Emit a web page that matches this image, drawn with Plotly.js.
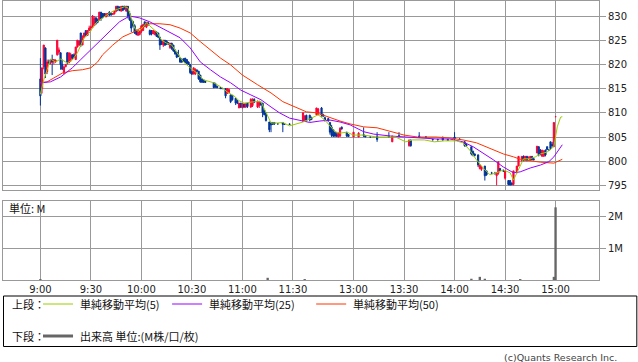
<!DOCTYPE html>
<html><head><meta charset="utf-8">
<script src="https://cdn.plot.ly/plotly-3.0.1.min.js"></script>
<style>html,body{margin:0;padding:0;background:#fff;}#chart{width:638px;height:362px;}</style>
</head><body><div id="chart"></div>
<script>
// ---------- DATA ----------
const tickLabels = ["9:00","9:30","10:00","10:30","11:00","11:30","13:00","13:30","14:00","14:30","15:00"];
const priceTicks = [795,800,805,810,815,820,825,830];

const candleTimes = ["9:00","9:01","9:02","9:03","9:04","9:05","9:06","9:07","9:08","9:09","9:10","9:11","9:12","9:13","9:14","9:15","9:16","9:17","9:18","9:19","9:20","9:21","9:22","9:23","9:24","9:25","9:26","9:27","9:28","9:29","9:30","9:31","9:32","9:33","9:34","9:35","9:36","9:37","9:38","9:39","9:40","9:41","9:42","9:43","9:44","9:45","9:46","9:47","9:48","9:49","9:50","9:51","9:52","9:53","9:54","9:55","9:56","9:57","9:58","9:59",
"10:00","10:01","10:02","10:03","10:04","10:05","10:06","10:07","10:08","10:09","10:10","10:11","10:12","10:13","10:14","10:15","10:16","10:17","10:18","10:19","10:20","10:21","10:22","10:23","10:24","10:25","10:26","10:27","10:28","10:29","10:30","10:31","10:32","10:33","10:34","10:35","10:36","10:37","10:38","10:43","10:44","10:45","10:47","10:48","10:50","10:51","10:52","10:53","10:54","10:56","10:57","10:58","10:59",
"11:00","11:01","11:02","11:03","11:05","11:06","11:07","11:09","11:10","11:11","11:12","11:13","11:14","11:16","11:17","11:18","11:19","11:21","11:24","11:25","11:28",
"12:30","12:31","12:32","12:34","12:35","12:38","12:39","12:41","12:42","12:43","12:45","12:46","12:47","12:48","12:49","12:50","12:51","12:52","12:53","12:56","12:57",
"13:00","13:03","13:06","13:07","13:10","13:14","13:21","13:23","13:27","13:33","13:34","13:39","13:43","13:47","13:50","13:53","13:56",
"14:00","14:03","14:06","14:07","14:10","14:11","14:12","14:14","14:15","14:16","14:18","14:19","14:22","14:24","14:25","14:26","14:27","14:29","14:30","14:32","14:33","14:34","14:35","14:37","14:38","14:40","14:41","14:42","14:43","14:44","14:45","14:46","14:47","14:49","14:50","14:51","14:52","14:53","14:54","14:55","14:56","14:57","14:58","14:59","15:00"];
const opens  = [817,815,819.5,823.4,818.5,820.5,820.3,821,820.5,820.5,822,822.5,822.4,820,818.2,819.5,822.4,820.3,821,822,822,821,823.6,824,826.5,824,825.5,827,826,827,827.5,827.7,828,829.6,829.2,829.2,830.8,830.5,830.5,829.8,830.3,830.8,830.5,830.3,830.5,831,832,831.5,831,832,832,831,832,830.5,829.2,828.8,828,827,826,826.2,
826.8,827,828.8,827.7,828.6,827,827,826.3,826.2,826.7,826.5,825.6,825,824,825,824.8,824.5,823.5,824.4,824,823,822.5,822,821.3,821,821,821.3,821,820.5,820,818.5,818,818,818.8,818.6,817.8,817,816.8,816.5,816.2,816,815.5,815.2,815,815,814,814.2,813.7,813.5,813,812.5,811,812,
811,811.8,811.2,812,811.2,811.5,812.8,811.2,811.5,812,812,810.5,810,808.1,808,808,808,807.7,808,807.7,807.7,
808.2,808.5,809.5,809.5,809,809.6,809.6,811,809.6,809,808.8,808,807,806.5,806,805.5,805,805.2,807,806,805.5,
805,805,805.5,805.3,805,805.2,805.2,804,805.3,803.2,804.3,805.2,805,804.5,804.5,805,804.5,
805,804.6,804,803.5,803,802,801.5,801.3,798.5,798.3,799,798,797.6,797.5,797,797.5,798.5,798,796.5,796,796,795.5,795.2,797.6,799,800,801,800.2,801,800.5,800.2,801,800.5,801.7,803,802.3,801,801,802.3,803,802.3,804,803.5,803,809.2];
const highs  = [821.3,819.3,824,823.5,821,821,821,822,821,821,825,823.5,822.5,821,819.5,820,822.5,822.4,822.4,822,822.3,823.6,825,825,826.5,826,826.5,827,827,828,828,830.2,830,829.8,829.5,830.8,830.8,830.6,830.6,830.5,830.6,831,830.8,830.6,831,832.1,832.1,832,832,832.1,832.1,832.1,832,831,829.5,829,828.3,827.2,827,827,
828,828.4,828.8,828.8,828.8,827.2,827,827,827,826.8,826.5,825.7,825,825,825,825,824.6,824.4,824.4,824,823,822.6,823,821.5,821.3,821.3,821.3,821,820.6,820,818.6,819.3,819.2,819,818.6,817.8,817,816.8,816.5,816.3,816.2,815.5,815.3,815.2,815,815,815,813.8,813.7,813,812.6,812,812,
812,812,812,812,813,813,813,812.5,812.5,812.3,812,810.6,810,808.1,808,808.1,808,807.8,808.1,807.8,807.8,
810,809.5,809.6,809.6,809.2,811,811,811.2,809.8,809.2,809,808,807.5,806.6,806,806,806,807,807.2,806,805.6,
806,806,807,805.4,805.1,806,806,805.2,806,804.4,804.5,806,805.1,804.6,804.6,805,804.6,
806,804.7,804.2,803.6,803,802.2,801.6,801.4,799.3,799,799,798,797.8,797.8,797.6,800,798.6,798.3,798,796,796.1,795.6,798,799,801,801,801.2,801,801.1,801,801,801,800.6,803.1,803,802.5,802.3,802.3,802.4,803,802.4,804,804,808,809.3];
const lows   = [811.5,814,819,817.2,818,820,820,817.8,820,820.3,821.8,822,818.9,818.9,818,819.5,820,820.3,820.5,821,821.3,820.9,823.5,823.8,823.6,824,825.5,825.7,826,827,827,827.5,828,828.2,828.5,829,829,829.5,829.8,829.8,830,830,830,830.3,830.3,830.8,831,831,831,831,831.3,831,829.5,829,826.7,827.7,826.3,826,826,826,
826.5,827,827.7,827.5,828,826,826,826.3,826,825.7,825.5,823,824,823.6,823.8,824,824,823.2,823,822.6,822,821.3,821.5,820.3,820.3,820.5,820.3,820,819.9,818,817.8,818,817.8,818.5,816.8,816.2,816.2,816.2,816.2,815.1,815.2,815.1,815,815,813,814,814,812,812.5,811.6,811.8,811,811,
811,811,811,811,811,811.2,812,811,811,811.5,809.1,809.5,808.2,806,806,807.5,807.5,807.7,806,807.5,807.6,
808.2,808.2,808.2,808.2,808.5,809.5,809.5,809.2,809.2,808.2,808.2,805.5,805,805,805,805,805,805,806.5,805,805,
805,805,805,805,805,804,805,804,805,803,803,805,805,804.4,804.4,804.2,804.2,
804.4,804.4,803,803,801.2,801,801,798.8,798.3,798,796,797,797.4,797.3,795,797.2,798,797.8,796.2,795,795,795,795,797.6,799,800,800,800.2,800,800.5,800.2,800.2,800.2,801.7,801,801.2,801,801,801,802.3,802.3,802.3,803,803,809.2];
const closes = [813.5,819.3,824,818,820.5,820.3,820.9,820.5,821,820.9,825,823,820,819,819.5,820,820.3,822.4,822,821.3,821.5,823.6,825,824.8,824,825.5,826.5,826,827,827.5,827.7,830,829.5,828.5,828.7,830.8,829.5,829.7,830,830.5,830.5,830.2,830.3,830.5,831,832,831.3,831.2,832,831.2,831.5,832,830,829.2,827.5,828,826.5,826.2,827,826.8,
828,828.2,828,828.6,828.2,826.2,826.3,827,826.8,825.8,825.6,824,824.2,825,824,824.2,824.2,824.4,823.3,822.8,822.2,821.5,821.8,820.5,820.5,820.7,820.4,820.2,820,818.3,818,819.3,819,818.6,817,816.4,816.3,816.3,816.3,815.2,815.3,815.2,815,815,813.5,815,814.8,812.3,812.7,812,812,812,811.2,
811.8,811.2,811.8,811.3,812.8,812.7,812.2,812.4,812.2,811.6,810,809.6,808.4,806.5,807.5,807.6,807.7,807.7,807.6,807.6,807.6,
810,809.3,808.4,808.5,808.6,811,810.8,809.5,809.3,808.4,808.3,806,805.3,805.2,805.2,805.2,805.8,806.8,806.7,805.2,805.1,
806,805.8,805.3,805,805,804.5,805,805.2,805.1,804.4,803.2,805,805,804.4,804.4,804.4,804.3,
804.6,804.5,803.2,803.1,801.5,801.3,801.2,799.2,799.2,798.8,797,797.2,797.5,797.4,797.6,799.8,798.1,798,798,795.2,795.1,795.2,798,799,801,801,800.2,801,800.2,800.6,801,800.3,800.3,803.1,801.3,801.5,802.3,802,801.3,802.4,802.3,802.6,803.2,808,809.2];

const ma5Times = ["9:00","9:02","9:04","9:06","9:09","9:12","9:16","9:19","9:22","9:26","9:29","9:33","9:37","9:41","9:45","9:50","9:52","9:54","9:56","9:58","10:00","10:03","10:06","10:09","10:12","10:15","10:18","10:21","10:25","10:29","10:33","10:37","10:43","10:47","10:51","10:55","10:58","11:01","11:07","11:11","11:14","11:17","11:21","11:24","11:28","12:30","12:35","12:39","12:43","12:47","12:49","12:52","12:56","13:00","13:06","13:14","13:20","13:25","13:31","13:35","13:42","13:48","13:54","14:01","14:05","14:09","14:13","14:17","14:21","14:25","14:29","14:33","14:35","14:37","14:41","14:45","14:48","14:51","14:55","14:59","15:01","15:03","15:04"];
const ma5Values = [813.8,816.8,818.9,821.1,820.5,821.1,820.3,820.9,822.4,825.5,826.5,828.6,829.6,830.6,831.3,831.9,831.7,829.6,827.5,826.8,827.3,828.6,827.7,826.7,825,824.4,824,822.4,820.5,819.3,818.2,816.8,816.2,815.4,814.3,813.5,812.5,812,812.3,812.3,810.2,807.9,807.9,808,807.3,808.1,808.9,809.6,808.5,806.9,806.1,805.8,806,805.4,805.4,805,805,805,804,804.4,804.4,804,804.2,804.2,803.8,802.3,800.3,798.6,797.2,797.6,798.2,797.6,796.1,797.6,800.5,800.5,800.9,801.5,801.9,803,807.1,809.1,809.2];

const ma25Times = ["9:00","9:06","9:12","9:16","9:19","9:24","9:30","9:35","9:41","9:47","9:53","9:59","10:05","10:11","10:17","10:23","10:29","10:35","10:41","10:47","10:53","10:59","11:05","11:11","11:17","11:22","11:28","12:30","12:34","12:40","12:46","12:52","12:58","13:06","13:12","13:22","13:30","13:38","13:49","13:57","14:05","14:11","14:17","14:23","14:29","14:35","14:39","14:45","14:51","14:56","14:59","15:02","15:04"];
const ma25Values = [816.2,816.4,817.4,818.4,819.3,821,823,824.7,826.7,828.8,830,829.6,828.8,827.7,826.5,825.5,823.4,820.5,818.9,817.4,816.2,814.7,813.7,812.7,811.2,810,808.9,808.2,808,808.3,808.5,808.1,807.5,806.1,805.6,805.2,805,804.8,804.6,804.6,804,803,801.7,800.3,798.8,797.6,797.8,798.6,799.2,799.9,800.9,802.5,803.4];

const ma50Times = ["9:00","9:04","9:08","9:13","9:19","9:25","9:30","9:34","9:37","9:43","9:49","9:56","10:00","10:05","10:11","10:17","10:23","10:29","10:35","10:41","10:47","10:53","11:00","11:09","11:17","11:24","12:30","12:32","12:38","12:46","12:52","12:58","13:06","13:14","13:22","13:30","13:38","13:49","13:57","14:05","14:13","14:21","14:29","14:35","14:39","14:45","14:51","14:59","15:01","15:04"];
const ma50Values = [816.2,816.4,817.2,818.2,818.7,818.9,819.3,820.5,822,824,825.7,826.8,827.6,828.4,828.4,828.2,827.5,826.5,824.7,823,821.3,819.9,817.8,815.8,814.1,812.3,810.6,810.2,810,809,808.3,807.7,807.1,806.9,806.1,805.4,805,805,804.8,804.4,803.8,802.7,801.5,800.9,800.4,800.1,799.8,799.6,799.9,800.4];

const volTimes = ["9:00","11:15","12:31","14:10","14:15","14:18","14:39","14:59","15:00"];
const volValues = [0.03,0.07,0.03,0.04,0.1,0.04,0.03,0.1,2.3]; // millions

// ---------- HELPERS ----------
function toIdx(s){const p=s.split(':').map(Number);const m=p[0]*60+p[1];return m<=690?m-540:156+(m-750);}
const RED='#ff0033', BLUE='#003399', GRID='#999999';
const W=638,H=362,ML=3,MR=39.3,MT=1,MB=82;
const PW=W-ML-MR, PH=H-MT-MB;
const px=x=>(x-ML)/PW, py=y=>(H-MB-y)/PH;
const xr=[-22.2,331.8];
const tickVals=tickLabels.map(toIdx);
const tf={family:'DejaVu Sans',size:10,color:'#222'};
const jf={family:'Noto Sans CJK JP',size:11,color:'#111'};

const traces=[
 {type:'candlestick',x:candleTimes.map(toIdx),open:opens,high:highs,low:lows,close:closes,
  increasing:{line:{color:RED,width:1},fillcolor:RED},decreasing:{line:{color:BLUE,width:1},fillcolor:BLUE},
  whiskerwidth:0,hoverinfo:'skip',xaxis:'x',yaxis:'y',showlegend:false},
 {type:'scatter',mode:'lines',x:ma50Times.map(toIdx),y:ma50Values,line:{color:'#ff3300',width:1},xaxis:'x',yaxis:'y',showlegend:false,hoverinfo:'skip'},
 {type:'scatter',mode:'lines',x:ma25Times.map(toIdx),y:ma25Values,line:{color:'#9900ff',width:1},xaxis:'x',yaxis:'y',showlegend:false,hoverinfo:'skip'},
 {type:'scatter',mode:'lines',x:ma5Times.map(toIdx),y:ma5Values,line:{color:'#99cc00',width:1},xaxis:'x',yaxis:'y',showlegend:false,hoverinfo:'skip'},
 {type:'bar',x:volTimes.map(toIdx),y:volValues,width:1.4,marker:{color:'#666666',line:{width:0}},xaxis:'x2',yaxis:'y2',showlegend:false,hoverinfo:'skip'}
];

const axBase={showgrid:true,gridcolor:GRID,gridwidth:1,showline:true,linecolor:GRID,linewidth:1,mirror:true,zeroline:false,fixedrange:true};
const shapes=[
 {type:'rect',xref:'paper',yref:'paper',x0:px(3.5),x1:px(636.5),y0:py(296),y1:py(346.5),line:{color:'#000',width:1},fillcolor:'rgba(0,0,0,0)'},
 {type:'line',xref:'paper',yref:'paper',x0:px(43),x1:px(73),y0:py(304),y1:py(304),line:{color:'#99cc00',width:1}},
 {type:'line',xref:'paper',yref:'paper',x0:px(172),x1:px(202),y0:py(304),y1:py(304),line:{color:'#9900ff',width:1}},
 {type:'line',xref:'paper',yref:'paper',x0:px(316),x1:px(346),y0:py(304),y1:py(304),line:{color:'#ff3300',width:1}},
 {type:'line',xref:'paper',yref:'paper',x0:px(43),x1:px(73),y0:py(336),y1:py(336),line:{color:'#666666',width:3}}
];
const ann=(x,y,t,f,anchor)=>({xref:'paper',yref:'paper',x:px(x),y:py(y),text:t,showarrow:false,xanchor:anchor||'left',yanchor:'middle',font:f||jf});
const annotations=[
 ann(10,304,'上段：'),ann(78,304,'単純移動平均(5)'),ann(207,304,'単純移動平均(25)'),ann(351,304,'単純移動平均(50)'),
 ann(10,336,'下段：'),ann(78,336,'出来高 単位:(M株/口/枚)'),
 ann(7,208,'単位: M',{family:'Noto Sans CJK JP',size:11,color:'#111'}),
 ann(619,357,'(c)Quants Research Inc.',{family:'DejaVu Sans',size:9.5,color:'#444'},'right')
];

const layout={width:W,height:H,margin:{l:ML,r:MR,t:MT,b:MB,pad:0},paper_bgcolor:'#fff',plot_bgcolor:'#fff',
 showlegend:false,boxgap:0,dragmode:false,
 xaxis:Object.assign({},axBase,{domain:[0,1],anchor:'y',range:xr,tickvals:tickVals,showticklabels:false,ticks:'',rangeslider:{visible:false}}),
 yaxis:Object.assign({},axBase,{domain:[py(190),1],anchor:'x',side:'right',range:[794.05,833.1],tickvals:priceTicks,ticks:'outside',ticklen:6,tickcolor:GRID,tickfont:tf}),
 xaxis2:Object.assign({},axBase,{domain:[0,1],anchor:'y2',range:xr,tickvals:tickVals,ticktext:tickLabels,ticks:'',tickfont:tf}),
 yaxis2:Object.assign({},axBase,{domain:[0,py(201)],anchor:'x2',side:'right',range:[0,2.5],tickvals:[1,2],ticktext:['1M','2M'],ticks:'outside',ticklen:6,tickcolor:GRID,tickfont:tf}),
 shapes:shapes,annotations:annotations};
Plotly.newPlot('chart',traces,layout,{staticPlot:true,displayModeBar:false});
</script></body></html>
